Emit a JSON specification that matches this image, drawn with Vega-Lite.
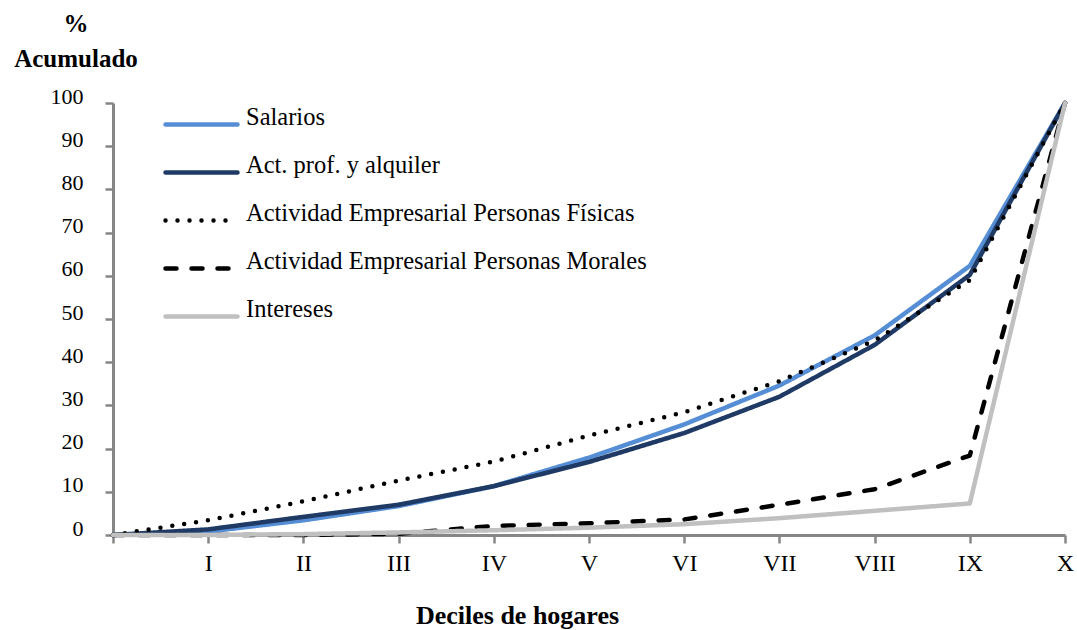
{
  "$schema": "https://vega.github.io/schema/vega-lite/v6.json",
  "width": 952,
  "height": 432,
  "autosize": {"type": "none"},
  "padding": {"left": 113, "top": 103, "right": 12, "bottom": 95},
  "background": "white",
  "config": {
    "view": {"stroke": null},
    "font": "Liberation Serif",
    "style": {
      "guide-label": {"font": "Liberation Serif", "fill": "black"},
      "guide-title": {"font": "Liberation Serif", "fill": "black"}
    },
    "axis": {
      "labelFont": "Liberation Serif",
      "titleFont": "Liberation Serif",
      "labelColor": "black",
      "titleColor": "black",
      "domainColor": "#868686",
      "domainWidth": 3,
      "tickColor": "#868686",
      "tickWidth": 2.5,
      "tickSize": 8,
      "grid": false
    },
    "legend": {"labelFont": "Liberation Serif", "titleFont": "Liberation Serif"}
  },
  "data": {
    "values": [
      {"d": 0, "serie": "Salarios", "v": 0},
      {"d": 1, "serie": "Salarios", "v": 0.8},
      {"d": 2, "serie": "Salarios", "v": 3.4},
      {"d": 3, "serie": "Salarios", "v": 6.7},
      {"d": 4, "serie": "Salarios", "v": 11.3},
      {"d": 5, "serie": "Salarios", "v": 17.9},
      {"d": 6, "serie": "Salarios", "v": 25.6},
      {"d": 7, "serie": "Salarios", "v": 34.6},
      {"d": 8, "serie": "Salarios", "v": 46.2},
      {"d": 9, "serie": "Salarios", "v": 62.3},
      {"d": 10, "serie": "Salarios", "v": 100},
      {"d": 0, "serie": "Act. prof. y alquiler", "v": 0},
      {"d": 1, "serie": "Act. prof. y alquiler", "v": 1.3},
      {"d": 2, "serie": "Act. prof. y alquiler", "v": 4.2},
      {"d": 3, "serie": "Act. prof. y alquiler", "v": 7.0},
      {"d": 4, "serie": "Act. prof. y alquiler", "v": 11.3},
      {"d": 5, "serie": "Act. prof. y alquiler", "v": 16.9},
      {"d": 6, "serie": "Act. prof. y alquiler", "v": 23.6},
      {"d": 7, "serie": "Act. prof. y alquiler", "v": 32.0},
      {"d": 8, "serie": "Act. prof. y alquiler", "v": 44.0},
      {"d": 9, "serie": "Act. prof. y alquiler", "v": 60.2},
      {"d": 10, "serie": "Act. prof. y alquiler", "v": 100},
      {"d": 0, "serie": "Actividad Empresarial Personas Físicas", "v": 0},
      {"d": 1, "serie": "Actividad Empresarial Personas Físicas", "v": 3.4},
      {"d": 2, "serie": "Actividad Empresarial Personas Físicas", "v": 7.8},
      {"d": 3, "serie": "Actividad Empresarial Personas Físicas", "v": 12.6},
      {"d": 4, "serie": "Actividad Empresarial Personas Físicas", "v": 17.0},
      {"d": 5, "serie": "Actividad Empresarial Personas Físicas", "v": 23.0},
      {"d": 6, "serie": "Actividad Empresarial Personas Físicas", "v": 28.4},
      {"d": 7, "serie": "Actividad Empresarial Personas Físicas", "v": 35.6},
      {"d": 8, "serie": "Actividad Empresarial Personas Físicas", "v": 45.0},
      {"d": 9, "serie": "Actividad Empresarial Personas Físicas", "v": 59.0},
      {"d": 10, "serie": "Actividad Empresarial Personas Físicas", "v": 100},
      {"d": 0, "serie": "Actividad Empresarial Personas Morales", "v": 0},
      {"d": 1, "serie": "Actividad Empresarial Personas Morales", "v": 0},
      {"d": 2, "serie": "Actividad Empresarial Personas Morales", "v": 0},
      {"d": 3, "serie": "Actividad Empresarial Personas Morales", "v": 0.3},
      {"d": 4, "serie": "Actividad Empresarial Personas Morales", "v": 2.1},
      {"d": 5, "serie": "Actividad Empresarial Personas Morales", "v": 2.7},
      {"d": 6, "serie": "Actividad Empresarial Personas Morales", "v": 3.6},
      {"d": 7, "serie": "Actividad Empresarial Personas Morales", "v": 7.0},
      {"d": 8, "serie": "Actividad Empresarial Personas Morales", "v": 10.6},
      {"d": 9, "serie": "Actividad Empresarial Personas Morales", "v": 18.4},
      {"d": 10, "serie": "Actividad Empresarial Personas Morales", "v": 100},
      {"d": 0, "serie": "Intereses", "v": 0},
      {"d": 1, "serie": "Intereses", "v": 0},
      {"d": 2, "serie": "Intereses", "v": 0.2},
      {"d": 3, "serie": "Intereses", "v": 0.6},
      {"d": 4, "serie": "Intereses", "v": 1.1},
      {"d": 5, "serie": "Intereses", "v": 1.7},
      {"d": 6, "serie": "Intereses", "v": 2.5},
      {"d": 7, "serie": "Intereses", "v": 3.9},
      {"d": 8, "serie": "Intereses", "v": 5.6},
      {"d": 9, "serie": "Intereses", "v": 7.3},
      {"d": 10, "serie": "Intereses", "v": 100}
    ]
  },
  "mark": {"type": "line", "strokeWidth": 4.5, "strokeCap": "round", "strokeJoin": "round"},
  "encoding": {
    "x": {
      "field": "d",
      "type": "quantitative",
      "scale": {"domain": [0, 10], "nice": false, "zero": false},
      "axis": {
        "values": [0, 1, 2, 3, 4, 5, 6, 7, 8, 9, 10],
        "labelExpr": "['', 'I', 'II', 'III', 'IV', 'V', 'VI', 'VII', 'VIII', 'IX', 'X'][datum.value]",
        "labelFont": "Liberation Serif",
        "labelFontSize": 24,
        "labelPadding": 8,
        "labelFlush": false,
        "labelOverlap": false,
        "title": "Deciles de hogares",
        "titleFont": "Liberation Serif",
        "titleFontSize": 26,
        "titleFontWeight": "bold",
        "titleAnchor": "start",
        "titleAlign": "center",
        "titleBaseline": "alphabetic",
        "titleX": 404,
        "titleY": 88
      }
    },
    "y": {
      "field": "v",
      "type": "quantitative",
      "scale": {"domain": [0, 100], "nice": false},
      "axis": {
        "values": [0, 10, 20, 30, 40, 50, 60, 70, 80, 90, 100],
        "labelFont": "Liberation Serif",
        "labelFontSize": 22,
        "labelPadding": 22,
        "labelOffset": -7,
        "labelFlush": false,
        "labelOverlap": false,
        "title": ["%", "Acumulado"],
        "titleFont": "Liberation Serif",
        "titleFontSize": 25,
        "titleFontWeight": "bold",
        "titleAngle": 0,
        "titleAlign": "center",
        "titleBaseline": "alphabetic",
        "titleLineHeight": 35,
        "titleX": -37.5,
        "titleY": -72
      }
    },
    "color": {
      "field": "serie",
      "type": "nominal",
      "sort": ["Salarios", "Act. prof. y alquiler", "Actividad Empresarial Personas Físicas", "Actividad Empresarial Personas Morales", "Intereses"],
      "scale": {
        "domain": ["Salarios", "Act. prof. y alquiler", "Actividad Empresarial Personas Físicas", "Actividad Empresarial Personas Morales", "Intereses"],
        "range": ["#558ED5", "#1F3A64", "#000000", "#000000", "#C0C0C0"]
      },
      "legend": {
        "title": null,
        "orient": "none",
        "legendX": 50,
        "legendY": -17,
        "padding": 0,
        "symbolType": "stroke",
        "symbolSize": 5184,
        "symbolStrokeWidth": 4.5,
        "labelFont": "Liberation Serif",
        "labelFontSize": 24.5,
        "labelColor": "black",
        "labelBaseline": "alphabetic",
        "labelOffset": 6,
        "labelLimit": 700,
        "rowPadding": -1,
        "encoding": {"symbols": {"strokeCap": {"value": "round"}}}
      }
    },
    "strokeDash": {
      "field": "serie",
      "type": "nominal",
      "sort": ["Salarios", "Act. prof. y alquiler", "Actividad Empresarial Personas Físicas", "Actividad Empresarial Personas Morales", "Intereses"],
      "scale": {
        "domain": ["Salarios", "Act. prof. y alquiler", "Actividad Empresarial Personas Físicas", "Actividad Empresarial Personas Morales", "Intereses"],
        "range": [[1, 0], [1, 0], [0, 12], [11, 15], [1, 0]]
      }
    }
  }
}
